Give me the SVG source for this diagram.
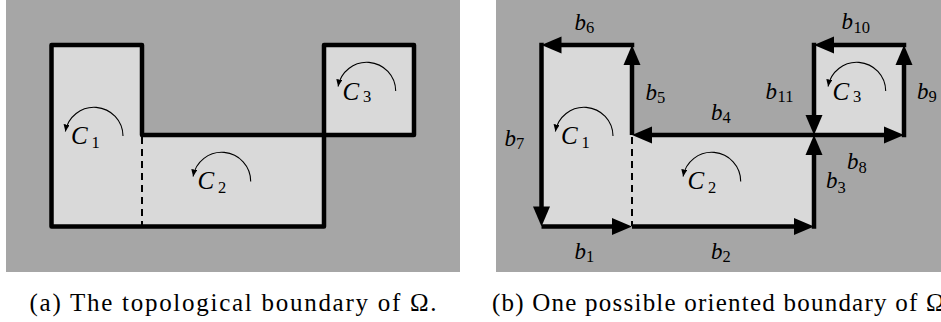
<svg xmlns="http://www.w3.org/2000/svg" xmlns:xlink="http://www.w3.org/1999/xlink" width="941" height="322" viewBox="0 0 941 322" font-family="Liberation Serif, DejaVu Serif, serif">
<style>
.bg{fill:#a6a6a6}
.reg{fill:#d9d9d9}
.outline{fill:none;stroke:#000;stroke-width:4.5;stroke-linejoin:round;stroke-linecap:round}
.edge{stroke:#000;stroke-width:4.5;stroke-linecap:butt}
.dash{stroke:#000;stroke-width:2;stroke-dasharray:7 5;fill:none}
.arc{fill:none;stroke:#000;stroke-width:1.1;marker-end:url(#sa)}
.m{font-style:italic;font-size:23px;fill:#000}
.mc{font-style:italic;font-size:25px;fill:#000}
.s{font-style:normal;font-size:16.5px}
.cap{font-size:25px;fill:#000}
</style>
<defs>
<marker id="sa" markerWidth="10" markerHeight="10" refX="7" refY="3" orient="auto" markerUnits="userSpaceOnUse">
<path d="M0,0 L7,3 L0,6 Z" fill="#000"/>
</marker>
<path id="ah" d="M0,0 L-20,-8.5 L-20,8.5 Z" fill="#000"/>
</defs>

<g id="panel-a">
<rect class="bg" x="6" y="0" width="454" height="272"/>
<g id="a-C1">
<rect class="reg" x="51.5" y="45" width="90.5" height="181.5"/>
<path class="arc" d="M123,136 A29,29 0 0 0 65.4,131.5"/>
<text class="mc" x="71" y="144">C<tspan class="s" x="91.5" y="147.5">1</tspan></text>
</g>
<g id="a-C2">
<rect class="reg" x="142" y="135" width="182" height="91.5"/>
<path class="arc" d="M250.7,181.5 A29,29 0 0 0 193.1,176.5"/>
<text class="mc" x="197.5" y="188.5">C<tspan class="s" x="218" y="192.5">2</tspan></text>
</g>
<g id="a-C3">
<rect class="reg" x="324" y="45" width="90" height="90"/>
<path class="arc" d="M395.7,91 A29,29 0 0 0 338.1,86.5"/>
<text class="mc" x="342.5" y="99.5">C<tspan class="s" x="363" y="102">3</tspan></text>
</g>
<g id="a-connectors">
<path class="outline" d="M51.5,45 H142 V135 H414 V45 H324 V226.5 H51.5 Z"/>
<path class="dash" d="M142,137 V226"/>
</g>
<text class="cap" x="29.5" y="311" textLength="407" lengthAdjust="spacing">(a) The topological boundary of Ω.</text>
</g>

<g id="panel-b">
<rect class="bg" x="496" y="0" width="445" height="272"/>
<g id="b-C1">
<rect class="reg" x="541.5" y="45" width="90.5" height="181.5"/>
<path class="arc" d="M613,136 A29,29 0 0 0 555.4,131.5"/>
<text class="mc" x="561" y="144">C<tspan class="s" x="581.5" y="147.5">1</tspan></text>
</g>
<g id="b-C2">
<rect class="reg" x="632" y="135" width="182" height="91.5"/>
<path class="arc" d="M740.7,181.5 A29,29 0 0 0 683.1,176.5"/>
<text class="mc" x="687.5" y="188.5">C<tspan class="s" x="708" y="192.5">2</tspan></text>
</g>
<g id="b-C3">
<rect class="reg" x="814" y="45" width="90" height="90"/>
<path class="arc" d="M885.7,91 A29,29 0 0 0 828.1,86.5"/>
<text class="mc" x="832.5" y="99.5">C<tspan class="s" x="853" y="102">3</tspan></text>
</g>
<g id="b-connectors">
<path class="dash" d="M632,137 V226"/>
<line class="edge" x1="541.5" y1="226.5" x2="616" y2="226.5"/>
<use xlink:href="#ah" href="#ah" transform="translate(632,226.5)"/>
<line class="edge" x1="632" y1="226.5" x2="798" y2="226.5"/>
<use xlink:href="#ah" href="#ah" transform="translate(814,226.5)"/>
<line class="edge" x1="814" y1="228.75" x2="814" y2="151"/>
<use xlink:href="#ah" href="#ah" transform="translate(814,135) rotate(-90)"/>
<line class="edge" x1="814" y1="135" x2="648" y2="135"/>
<use xlink:href="#ah" href="#ah" transform="translate(632,135) rotate(180)"/>
<line class="edge" x1="632" y1="135" x2="632" y2="61"/>
<use xlink:href="#ah" href="#ah" transform="translate(632,45) rotate(-90)"/>
<line class="edge" x1="634.25" y1="45" x2="557.5" y2="45"/>
<use xlink:href="#ah" href="#ah" transform="translate(541.5,45) rotate(180)"/>
<line class="edge" x1="541.5" y1="42.75" x2="541.5" y2="210.5"/>
<use xlink:href="#ah" href="#ah" transform="translate(541.5,226.5) rotate(90)"/>
<line class="edge" x1="814" y1="135" x2="888" y2="135"/>
<use xlink:href="#ah" href="#ah" transform="translate(904,135)"/>
<line class="edge" x1="904" y1="137.25" x2="904" y2="61"/>
<use xlink:href="#ah" href="#ah" transform="translate(904,45) rotate(-90)"/>
<line class="edge" x1="906.25" y1="45" x2="830" y2="45"/>
<use xlink:href="#ah" href="#ah" transform="translate(814,45) rotate(180)"/>
<line class="edge" x1="814" y1="42.75" x2="814" y2="119"/>
<use xlink:href="#ah" href="#ah" transform="translate(814,135) rotate(90)"/>
</g>
<g id="b-labels">
<text class="m" x="574.5" y="258.5">b<tspan class="s" x="586" y="262">1</tspan></text>
<text class="m" x="711" y="258.5">b<tspan class="s" x="722.5" y="262">2</tspan></text>
<text class="m" x="826" y="188">b<tspan class="s" x="837.5" y="193">3</tspan></text>
<text class="m" x="711" y="120">b<tspan class="s" x="722.5" y="123">4</tspan></text>
<text class="m" x="645.5" y="100">b<tspan class="s" x="657" y="103">5</tspan></text>
<text class="m" x="574.5" y="29.5">b<tspan class="s" x="586" y="33">6</tspan></text>
<text class="m" x="504.5" y="145.5">b<tspan class="s" x="516" y="148.5">7</tspan></text>
<text class="m" x="847" y="168.5">b<tspan class="s" x="858.5" y="173">8</tspan></text>
<text class="m" x="917" y="99">b<tspan class="s" x="928.5" y="101.7">9</tspan></text>
<text class="m" x="841.5" y="28.5">b<tspan class="s" x="853.5" y="33">10</tspan></text>
<text class="m" x="765.5" y="99">b<tspan class="s" x="777.5" y="101.7">11</tspan></text>
</g>
<text class="cap" x="492" y="311" textLength="460" lengthAdjust="spacing">(b) One possible oriented boundary of Ω.</text>
</g>
</svg>
